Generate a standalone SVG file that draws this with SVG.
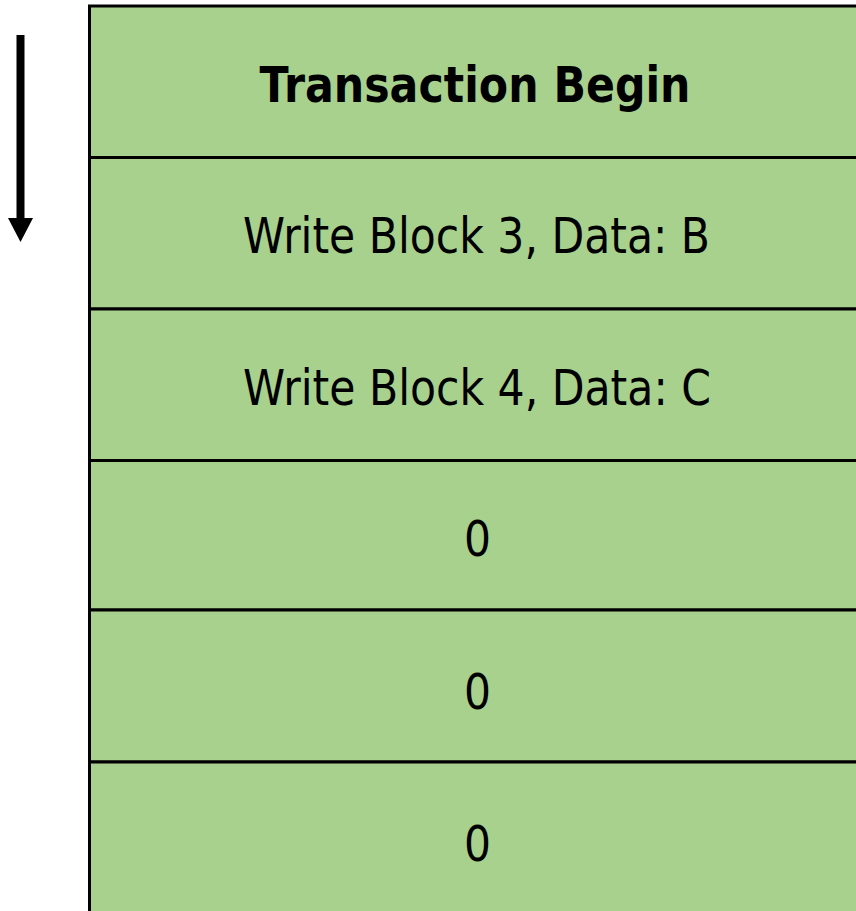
<svg xmlns="http://www.w3.org/2000/svg" width="856" height="911" viewBox="0 0 856 911">
<style>
.cell{fill:#A9D18E;stroke:#000;stroke-width:3}
.t{font-family:"DejaVu Sans",Verdana,sans-serif;font-size:50px;fill:#000;text-anchor:middle}
.b{font-weight:bold}
</style>
<rect width="856" height="911" fill="#fff"/>
<g id="arrow">
<rect x="16.5" y="35" width="8" height="185" fill="#000"/>
<polygon points="8,218 33,218 20.5,242" fill="#000"/>
</g>
<g id="row1"><rect class="cell" x="89.5" y="6" width="780" height="151.5"/><text class="t b" x="475" y="102" textLength="431" lengthAdjust="spacingAndGlyphs">Transaction Begin</text></g>
<g id="row2"><rect class="cell" x="89.5" y="157.5" width="780" height="151.5"/><text class="t" x="476.5" y="253" textLength="467" lengthAdjust="spacingAndGlyphs">Write Block 3, Data: B</text></g>
<g id="row3"><rect class="cell" x="89.5" y="309" width="780" height="151.5"/><text class="t" x="477" y="405" textLength="468" lengthAdjust="spacingAndGlyphs">Write Block 4, Data: C</text></g>
<g id="row4"><rect class="cell" x="89.5" y="460.5" width="780" height="149.5"/><text class="t" x="477.5" y="556" textLength="27" lengthAdjust="spacingAndGlyphs">0</text></g>
<g id="row5"><rect class="cell" x="89.5" y="610" width="780" height="152"/><text class="t" x="477.5" y="708.5" textLength="27" lengthAdjust="spacingAndGlyphs">0</text></g>
<g id="row6"><rect class="cell" x="89.5" y="762" width="780" height="170"/><text class="t" x="477.5" y="860.5" textLength="27" lengthAdjust="spacingAndGlyphs">0</text></g>
</svg>
